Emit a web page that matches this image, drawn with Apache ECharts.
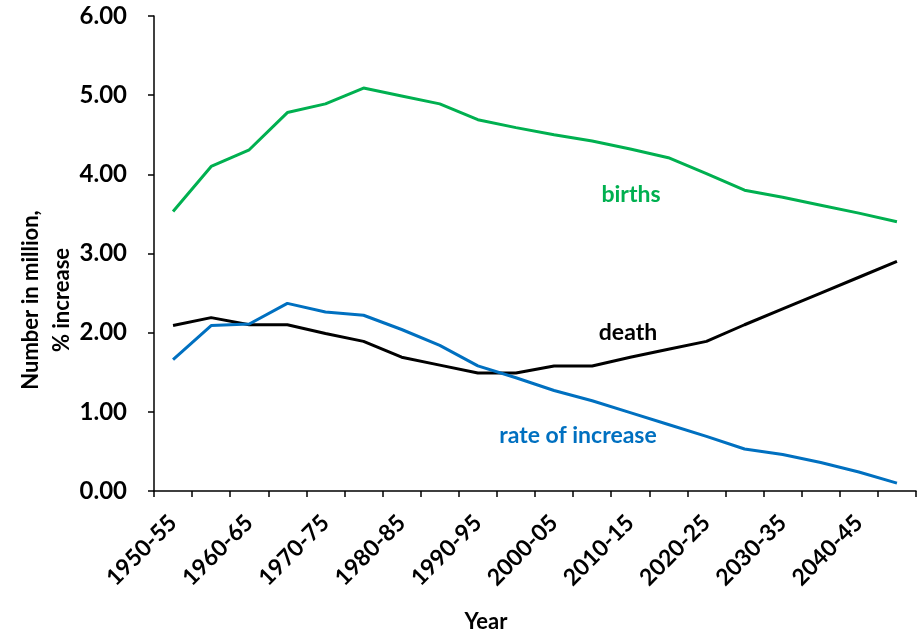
<!DOCTYPE html>
<html>
<head>
<meta charset="utf-8">
<script src="https://cdn.jsdelivr.net/npm/echarts@6/dist/echarts.min.js"></script>
<style>
  html, body { margin: 0; padding: 0; background: #fff; }
  #chart { width: 919px; height: 633px; }
</style>
</head>
<body>
<div id="chart"></div>
<script>
// periods on the x axis
const periods = [
  '1950-55', '1955-60', '1960-65', '1965-70', '1970-75', '1975-80', '1980-85', '1985-90',
  '1990-95', '1995-00', '2000-05', '2005-10', '2010-15', '2015-20', '2020-25', '2025-30',
  '2030-35', '2035-40', '2040-45', '2045-50'
]

// values
const births = [3.53, 4.10, 4.31, 4.78, 4.89, 5.09, 4.99, 4.89, 4.69, 4.59,
  4.50, 4.42, 4.32, 4.21, 4.01, 3.80, 3.71, 3.61, 3.51, 3.40]
const deaths = [2.09, 2.19, 2.10, 2.10, 1.99, 1.89, 1.69, 1.59, 1.49, 1.49,
  1.58, 1.58, 1.69, 1.79, 1.89, 2.10, 2.30, 2.50, 2.70, 2.90]
const rateOfIncrease = [1.66, 2.09, 2.11, 2.37, 2.26, 2.22, 2.04, 1.84, 1.58, 1.43,
  1.27, 1.14, 0.99, 0.84, 0.69, 0.53, 0.46, 0.36, 0.24, 0.10]

const FONT = 'Lato'
const GREEN = '#00b050'
const BLUE = '#0070c0'

let chart = echarts.init(document.getElementById('chart'), null, { renderer: 'canvas' })

let option = {
  animation: false,
  backgroundColor: '#fff',
  grid: {
    left: 154,
    right: 3,
    top: 16,
    bottom: 142,
  },
  xAxis: {
    type: 'category',
    data: periods,
    boundaryGap: true,
    axisLine: { lineStyle: { color: '#000', width: 1.5 } },
    axisTick: { show: true, interval: 0, length: 6, lineStyle: { color: '#000', width: 1.5 } },
    axisLabel: {
      interval: 1,
      rotate: 45,
      margin: 28,
      color: '#000',
      fontFamily: FONT,
      fontWeight: 'bold',
      fontSize: 23,
    },
    splitLine: { show: false },
  },
  yAxis: {
    type: 'value',
    min: 0,
    max: 6,
    interval: 1,
    axisLine: { show: true, lineStyle: { color: '#000', width: 1.5 } },
    axisTick: { show: true, length: 6, lineStyle: { color: '#000', width: 1.5 } },
    axisLabel: {
      margin: 27,
      color: '#000',
      fontFamily: FONT,
      fontWeight: 'bold',
      fontSize: 24,
      formatter: v => v.toFixed(2),
    },
    splitLine: { show: false },
  },
  series: [
    {
      name: 'births',
      type: 'line',
      data: births,
      symbol: 'none',
      lineStyle: { color: GREEN, width: 3 },
    },
    {
      name: 'death',
      type: 'line',
      data: deaths,
      symbol: 'none',
      lineStyle: { color: '#000', width: 3 },
    },
    {
      name: 'rate of increase',
      type: 'line',
      data: rateOfIncrease,
      symbol: 'none',
      lineStyle: { color: BLUE, width: 3 },
    },
  ],
  graphic: [
    {
      type: 'text',
      x: 631, y: 195,
      style: { text: 'births', fill: GREEN, font: 'bold 23px ' + FONT, align: 'center', verticalAlign: 'middle' },
    },
    {
      type: 'text',
      x: 628, y: 333,
      style: { text: 'death', fill: '#000', font: 'bold 23px ' + FONT, align: 'center', verticalAlign: 'middle' },
    },
    {
      type: 'text',
      x: 578, y: 436,
      style: { text: 'rate of increase', fill: BLUE, font: 'bold 23px ' + FONT, align: 'center', verticalAlign: 'middle' },
    },
    {
      type: 'text',
      x: 486, y: 622,
      style: { text: 'Year', fill: '#000', font: 'bold 22px ' + FONT, align: 'center', verticalAlign: 'middle' },
    },
    {
      type: 'text',
      x: 46, y: 300,
      rotation: Math.PI / 2,
      style: {
        text: 'Number in million,\n% increase',
        fill: '#000',
        font: 'bold 22px ' + FONT,
        lineHeight: 31,
        align: 'center',
        verticalAlign: 'middle',
      },
    },
  ],
}

chart.setOption(option)
</script>
</body>
</html>
